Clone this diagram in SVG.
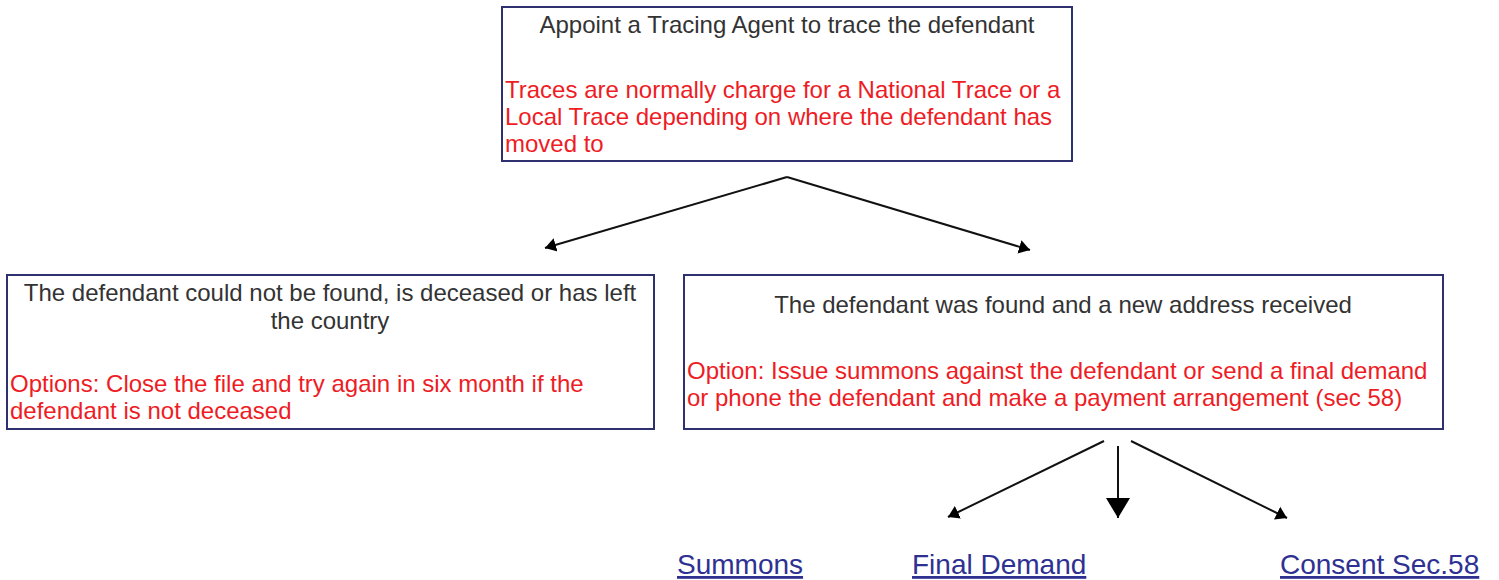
<svg xmlns="http://www.w3.org/2000/svg" width="1499" height="580" viewBox="0 0 1499 580">
<style>
.box{fill:#fff;stroke:#2e3070;stroke-width:2}
.t{font-family:"Liberation Sans",Arial,sans-serif;font-size:24px;fill:#333}
.r{font-family:"Liberation Sans",Arial,sans-serif;font-size:24px;fill:#ee1c25}
.lk{font-family:"Liberation Sans",Arial,sans-serif;font-size:28px;fill:#2e3192;text-decoration:underline}
.c{stroke:#111;stroke-width:2;fill:none}
</style>
<defs>
<marker id="ah" markerUnits="userSpaceOnUse" markerWidth="14" markerHeight="16" refX="11" refY="8" orient="auto">
<path d="M0,1 L11,8 L0,15 Z" fill="#000"/>
</marker>
<marker id="ahb" markerUnits="userSpaceOnUse" markerWidth="22" markerHeight="26" refX="20" refY="12" orient="auto">
<path d="M0,0 L20,12 L0,24 Z" fill="#000"/>
</marker>
</defs>
<rect width="1499" height="580" fill="#fff"/>
<g id="connectors">
<path class="c" d="M787,177 L545,248" marker-end="url(#ah)"/>
<path class="c" d="M787,177 L1030,250" marker-end="url(#ah)"/>
<path class="c" d="M1104,441 L948,517" marker-end="url(#ah)"/>
<path class="c" d="M1118,446 L1118,518" marker-end="url(#ahb)"/>
<path class="c" d="M1131,441 L1287,518" marker-end="url(#ah)"/>
</g>
<g id="node-trace">
<rect class="box" x="502" y="7" width="570" height="154"/>
<text class="t" x="787" y="33" text-anchor="middle">Appoint a Tracing Agent to trace the defendant</text>
<text class="r" x="505" y="98">Traces are normally charge for a National Trace or a</text>
<text class="r" x="505" y="125">Local Trace depending on where the defendant has</text>
<text class="r" x="505" y="152">moved to</text>
</g>
<g id="node-notfound">
<rect class="box" x="7" y="275" width="647" height="154"/>
<text class="t" x="330" y="301" text-anchor="middle">The defendant could not be found, is deceased or has left</text>
<text class="t" x="330" y="329" text-anchor="middle">the country</text>
<text class="r" x="10" y="392">Options: Close the file and try again in six month if the</text>
<text class="r" x="10" y="419">defendant is not deceased</text>
</g>
<g id="node-found">
<rect class="box" x="684" y="275" width="759" height="154"/>
<text class="t" x="1063" y="313" text-anchor="middle">The defendant was found and a new address received</text>
<text class="r" x="687" y="379">Option: Issue summons against the defendant or send a final demand</text>
<text class="r" x="687" y="406">or phone the defendant and make a payment arrangement (sec 58)</text>
</g>
<g id="node-summons"><text class="lk" x="677" y="574">Summons</text></g>
<g id="node-finaldemand"><text class="lk" x="912" y="574">Final Demand</text></g>
<g id="node-consent"><text class="lk" x="1280" y="574">Consent Sec.58</text></g>
</svg>
